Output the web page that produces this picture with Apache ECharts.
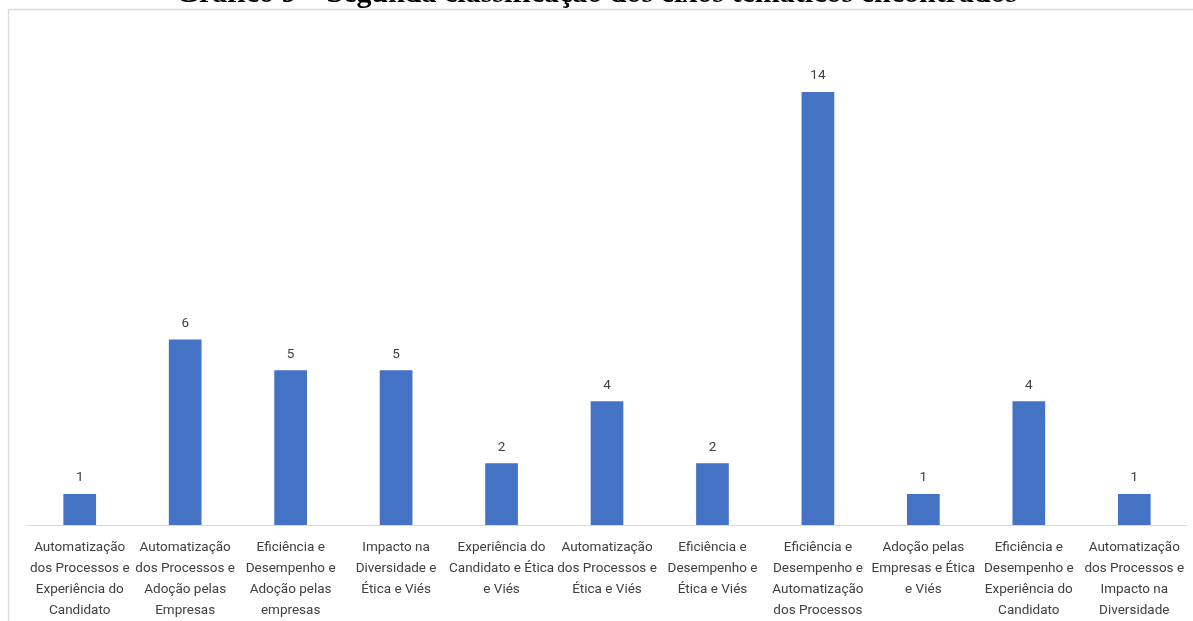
<!DOCTYPE html>
<html>
<head>
<meta charset="utf-8">
<script src="https://cdn.jsdelivr.net/npm/echarts@6/dist/echarts.min.js"></script>
<style>
  html, body { margin: 0; padding: 0; background: #ffffff; }
  #chart { width: 1193px; height: 621px; }
</style>
</head>
<body>
<div id="chart"></div>
<script>
// Thematic axis pairs (line breaks as shown under each column)
const categories = [
  'Automatização\ndos Processos e\nExperiência do\nCandidato',
  'Automatização\ndos Processos e\nAdoção pelas\nEmpresas',
  'Eficiência e\nDesempenho e\nAdoção pelas\nempresas',
  'Impacto na\nDiversidade e\nÉtica e Viés',
  'Experiência do\nCandidato e Ética\ne Viés',
  'Automatização\ndos Processos e\nÉtica e Viés',
  'Eficiência e\nDesempenho e\nÉtica e Viés',
  'Eficiência e\nDesempenho e\nAutomatização\ndos Processos',
  'Adoção pelas\nEmpresas e Ética\ne Viés',
  'Eficiência e\nDesempenho e\nExperiência do\nCandidato',
  'Automatização\ndos Processos e\nImpacto na\nDiversidade'
];
const counts = [1, 6, 5, 5, 2, 4, 2, 14, 1, 4, 1];
const titleText = 'Gráfico 9 – Segunda classificação dos eixos temáticos encontrados';

const chart = echarts.init(document.getElementById('chart'), null, { renderer: 'canvas' });

chart.setOption({
  animation: false,
  backgroundColor: '#ffffff',
  graphic: [
    {
      type: 'rect',
      shape: { x: 8.5, y: 9.5, width: 1300, height: 800 },
      style: { fill: 'none', stroke: '#d9d9d9', lineWidth: 1.3 },
      z: 0
    },
    {
      type: 'text',
      left: 'center',
      top: -21,
      style: {
        text: titleText,
        font: 'bold 30px "Liberation Serif", "Times New Roman", serif',
        fill: '#000000'
      },
      z: 10
    }
  ],
  grid: { left: 27, right: 6, top: 30, bottom: 95 },
  xAxis: {
    type: 'category',
    data: categories,
    axisLine: { show: true, lineStyle: { color: '#d9d9d9', width: 1 } },
    axisTick: { show: false },
    axisLabel: {
      interval: 0,
      margin: 12,
      color: '#404040',
      fontSize: 13.5,
      lineHeight: 21,
      fontFamily: 'Roboto, "Open Sans", sans-serif'
    }
  },
  yAxis: {
    type: 'value',
    min: 0,
    max: 16,
    interval: 2,
    show: false,
    splitLine: { show: false }
  },
  series: [{
    type: 'bar',
    data: counts,
    barWidth: '31%',
    itemStyle: { color: '#4472C4' },
    label: {
      show: true,
      position: 'top',
      distance: 9,
      color: '#404040',
      fontSize: 13.5,
      fontFamily: 'Roboto, "Open Sans", sans-serif'
    }
  }]
});
</script>
</body>
</html>
